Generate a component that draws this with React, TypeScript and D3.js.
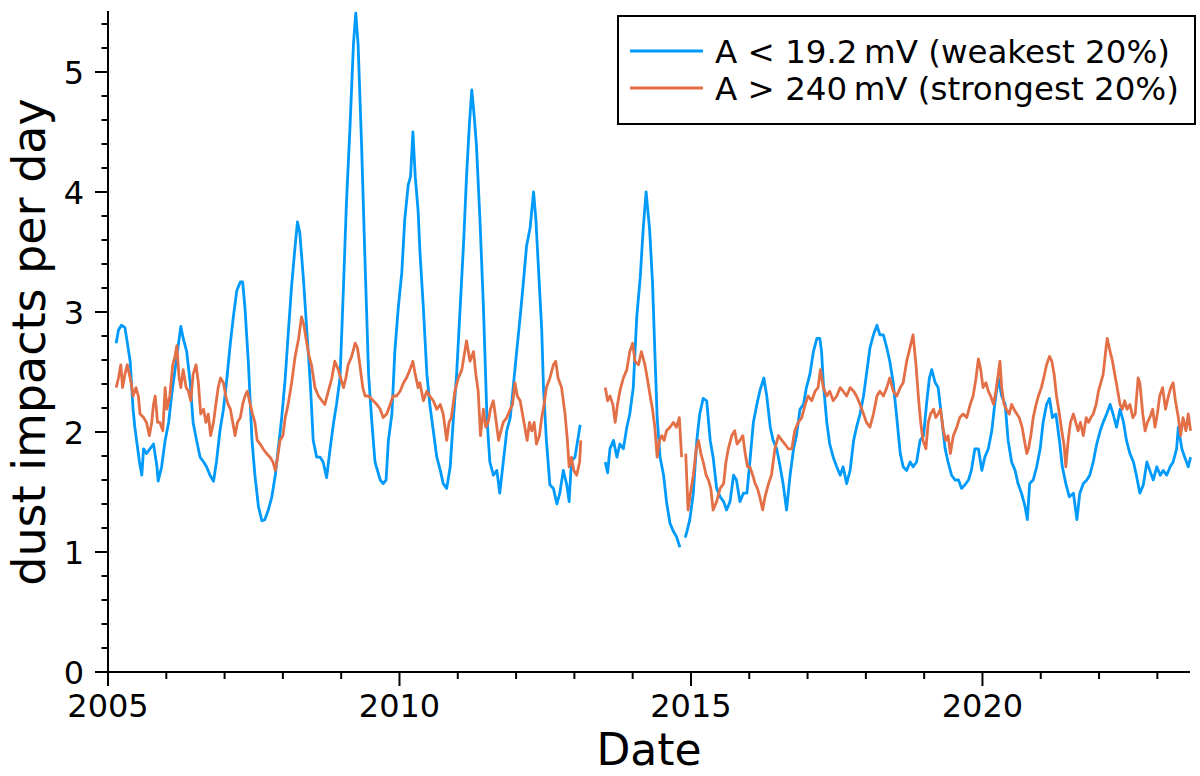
import React from "react";
import * as d3 from "d3";

// ---- data ----
const seriesNames = ["A < 19.2\u2009mV (weakest 20%)", "A > 240\u2009mV (strongest 20%)"];
const seriesColors = ["#009AFA", "#E36F47"];

const blueYears = [
  2005.14, 2005.18, 2005.23, 2005.29, 2005.32, 2005.38, 2005.43, 2005.46, 2005.49, 2005.54, 2005.58, 2005.61, 2005.66, 2005.72, 2005.78, 2005.84, 2005.86, 2005.92, 2005.98,
  2006.04, 2006.09, 2006.15, 2006.21, 2006.25, 2006.29, 2006.35, 2006.41, 2006.46, 2006.52, 2006.58, 2006.64, 2006.69, 2006.75, 2006.81, 2006.86, 2006.92, 2006.98,
  2007.04, 2007.09, 2007.15, 2007.21, 2007.27, 2007.31, 2007.35, 2007.41, 2007.47, 2007.52, 2007.58, 2007.64, 2007.69, 2007.75, 2007.81, 2007.87, 2007.92, 2007.98,
  2008.04, 2008.09, 2008.15, 2008.21, 2008.25, 2008.29, 2008.35, 2008.41, 2008.47, 2008.52, 2008.58, 2008.64, 2008.69, 2008.75, 2008.81, 2008.87, 2008.92, 2008.98,
  2009.04, 2009.09, 2009.15, 2009.21, 2009.25, 2009.29, 2009.35, 2009.41, 2009.47, 2009.52, 2009.58, 2009.67, 2009.72, 2009.77, 2009.81, 2009.87, 2009.92, 2009.98,
  2010.04, 2010.09, 2010.15, 2010.19, 2010.23, 2010.27, 2010.32, 2010.35, 2010.41, 2010.47, 2010.52, 2010.58, 2010.64, 2010.70, 2010.75, 2010.81, 2010.87, 2010.92, 2010.98,
  2011.04, 2011.10, 2011.15, 2011.20, 2011.24, 2011.28, 2011.32, 2011.38, 2011.44, 2011.50, 2011.55, 2011.61, 2011.67, 2011.72, 2011.78, 2011.84, 2011.90, 2011.95,
  2012.01, 2012.07, 2012.12, 2012.18, 2012.24, 2012.30, 2012.34, 2012.38, 2012.44, 2012.47, 2012.52, 2012.58, 2012.64, 2012.70, 2012.75, 2012.81, 2012.87, 2012.91, 2012.95,
  2013.01, 2013.10, 2013.30,
  2013.53, 2013.57, 2013.61, 2013.67, 2013.73, 2013.78, 2013.84, 2013.90, 2013.95, 2014.01, 2014.07, 2014.13, 2014.18, 2014.23, 2014.29, 2014.34, 2014.38, 2014.42, 2014.47,
  2014.53, 2014.58, 2014.64, 2014.70, 2014.75, 2014.81, 2014.85,
  2014.90, 2014.93, 2014.98, 2015.04, 2015.10, 2015.15, 2015.21, 2015.27, 2015.33, 2015.38, 2015.44, 2015.50, 2015.56, 2015.61, 2015.67, 2015.73, 2015.78, 2015.84, 2015.90, 2015.96,
  2016.01, 2016.07, 2016.13, 2016.18, 2016.25, 2016.30, 2016.36, 2016.41, 2016.47, 2016.53, 2016.58, 2016.64, 2016.70, 2016.76, 2016.81, 2016.87, 2016.93, 2016.98,
  2017.04, 2017.10, 2017.16, 2017.21, 2017.24, 2017.27, 2017.33, 2017.38, 2017.44, 2017.50, 2017.56, 2017.61, 2017.67, 2017.73, 2017.79, 2017.84, 2017.90, 2017.96,
  2018.01, 2018.07, 2018.13, 2018.19, 2018.24, 2018.30, 2018.36, 2018.41, 2018.47, 2018.53, 2018.59, 2018.64, 2018.70, 2018.76, 2018.81, 2018.87, 2018.93, 2018.99,
  2019.04, 2019.09, 2019.13, 2019.19, 2019.24, 2019.30, 2019.36, 2019.41, 2019.47, 2019.53, 2019.59, 2019.64, 2019.70, 2019.76, 2019.81, 2019.87, 2019.93, 2019.99,
  2020.04, 2020.10, 2020.16, 2020.21, 2020.27, 2020.33, 2020.39, 2020.44, 2020.50, 2020.56, 2020.61, 2020.67, 2020.73, 2020.77, 2020.81, 2020.87, 2020.93, 2020.99,
  2021.04, 2021.10, 2021.15, 2021.20, 2021.26, 2021.32, 2021.37, 2021.43, 2021.49, 2021.56, 2021.62, 2021.67, 2021.73, 2021.79, 2021.84, 2021.90, 2021.96,
  2022.02, 2022.07, 2022.13, 2022.19, 2022.24, 2022.30, 2022.36, 2022.42, 2022.47, 2022.53, 2022.59, 2022.64, 2022.70, 2022.76, 2022.82, 2022.87, 2022.93, 2022.99,
  2023.05, 2023.10, 2023.16, 2023.22, 2023.27, 2023.33, 2023.36, 2023.42, 2023.47, 2023.53, 2023.57,
];
const blueValues = [
  2.74, 2.85, 2.89, 2.87, 2.78, 2.59, 2.19, 2.04, 1.93, 1.75, 1.64, 1.86, 1.82, 1.86, 1.90, 1.71, 1.59, 1.71, 1.93,
  2.08, 2.30, 2.52, 2.74, 2.88, 2.78, 2.67, 2.41, 2.08, 1.93, 1.79, 1.75, 1.71, 1.64, 1.59, 1.75, 2.01, 2.19,
  2.45, 2.70, 2.96, 3.18, 3.25, 3.25, 3.03, 2.56, 1.93, 1.64, 1.38, 1.26, 1.27, 1.35, 1.46, 1.64, 1.86, 2.12,
  2.45, 2.81, 3.22, 3.55, 3.75, 3.66, 3.29, 2.85, 2.41, 1.93, 1.79, 1.79, 1.75, 1.62, 1.86, 2.08, 2.23, 2.45,
  3.22, 3.91, 4.53, 5.23, 5.49, 5.23, 4.39, 3.40, 2.48, 2.12, 1.75, 1.60, 1.57, 1.60, 1.93, 2.15, 2.67, 3.04,
  3.33, 3.77, 4.06, 4.13, 4.50, 4.13, 3.84, 3.51, 3.03, 2.48, 2.23, 2.01, 1.79, 1.68, 1.57, 1.53, 1.71, 2.08, 2.48,
  3.03, 3.58, 4.13, 4.57, 4.85, 4.64, 4.39, 3.77, 3.04, 2.12, 1.75, 1.64, 1.68, 1.49, 1.75, 2.01, 2.12, 2.37,
  2.67, 2.96, 3.22, 3.55, 3.70, 4.00, 3.77, 3.40, 2.85, 2.37, 1.93, 1.56, 1.53, 1.40, 1.49, 1.68, 1.56, 1.42, 1.76,
  1.79, 2.06, null,
  1.75, 1.66, 1.86, 1.93, 1.79, 1.90, 1.86, 2.04, 2.15, 2.37, 2.96, 3.29, 3.69, 4.00, 3.69, 3.25, 2.67, 2.12, 1.79,
  1.64, 1.42, 1.24, 1.17, 1.13, 1.04, null,
  1.12, 1.17, 1.27, 1.49, 1.93, 2.15, 2.28, 2.26, 1.93, 1.79, 1.53, 1.46, 1.42, 1.35, 1.42, 1.64, 1.60, 1.42, 1.49, 1.49,
  1.75, 2.08, 2.23, 2.34, 2.45, 2.30, 2.04, 1.93, 1.86, 1.71, 1.57, 1.35, 1.64, 1.86, 1.97, 2.19, 2.23, 2.37,
  2.48, 2.67, 2.78, 2.78, 2.67, 2.41, 2.08, 1.90, 1.79, 1.71, 1.64, 1.71, 1.57, 1.68, 1.93, 2.04, 2.15, 2.30,
  2.48, 2.70, 2.81, 2.89, 2.81, 2.81, 2.70, 2.59, 2.41, 2.12, 1.82, 1.71, 1.68, 1.75, 1.71, 1.75, 1.93, 1.97,
  2.23, 2.45, 2.52, 2.41, 2.37, 2.12, 1.86, 1.75, 1.64, 1.60, 1.60, 1.53, 1.56, 1.60, 1.68, 1.86, 1.86, 1.68,
  1.79, 1.86, 2.01, 2.23, 2.45, 2.30, 2.23, 1.93, 1.75, 1.68, 1.57, 1.49, 1.38, 1.27, 1.57, 1.60, 1.71, 1.86,
  2.08, 2.23, 2.28, 2.12, 2.15, 1.93, 1.71, 1.57, 1.46, 1.49, 1.27, 1.49, 1.57, 1.60, 1.64, 1.75, 1.90,
  2.01, 2.08, 2.15, 2.23, 2.15, 2.04, 2.19, 2.08, 1.93, 1.82, 1.75, 1.64, 1.49, 1.56, 1.75, 1.68, 1.60, 1.71,
  1.64, 1.68, 1.64, 1.71, 1.75, 1.86, 2.04, 1.86, 1.79, 1.71, 1.79,
];

const orangeYears = [
  2005.14, 2005.18, 2005.22, 2005.25, 2005.29, 2005.33, 2005.38, 2005.41, 2005.43, 2005.48, 2005.52, 2005.55, 2005.61, 2005.66, 2005.71, 2005.75, 2005.78, 2005.81, 2005.85, 2005.89, 2005.94, 2005.98,
  2006.01, 2006.06, 2006.11, 2006.15, 2006.18, 2006.22, 2006.25, 2006.29, 2006.34, 2006.38, 2006.42, 2006.46, 2006.51, 2006.55, 2006.59, 2006.64, 2006.68, 2006.72, 2006.76, 2006.81, 2006.85, 2006.89, 2006.93, 2006.98,
  2007.02, 2007.06, 2007.10, 2007.14, 2007.18, 2007.22, 2007.27, 2007.31, 2007.35, 2007.39, 2007.44, 2007.48, 2007.52, 2007.56, 2007.61, 2007.66, 2007.72, 2007.78, 2007.83, 2007.87, 2007.91, 2007.95,
  2008.00, 2008.04, 2008.09, 2008.15, 2008.21, 2008.27, 2008.32, 2008.36, 2008.41, 2008.45, 2008.49, 2008.55, 2008.61, 2008.67, 2008.72, 2008.78, 2008.84, 2008.89, 2008.95, 2008.99,
  2009.04, 2009.08, 2009.12, 2009.18, 2009.24, 2009.28, 2009.32, 2009.37, 2009.41, 2009.47, 2009.55, 2009.61, 2009.67, 2009.72, 2009.78, 2009.84, 2009.89, 2009.95,
  2010.01, 2010.07, 2010.12, 2010.18, 2010.23, 2010.27, 2010.32, 2010.35, 2010.41, 2010.47, 2010.52, 2010.58, 2010.64, 2010.70, 2010.75, 2010.81, 2010.85, 2010.89, 2010.95,
  2011.01, 2011.07, 2011.12, 2011.15, 2011.21, 2011.27, 2011.31, 2011.35, 2011.39, 2011.44, 2011.48, 2011.52, 2011.56, 2011.61, 2011.66, 2011.70, 2011.74, 2011.78, 2011.84, 2011.90, 2011.94, 2011.98,
  2012.02, 2012.07, 2012.11, 2012.15, 2012.19, 2012.23, 2012.27, 2012.31, 2012.35, 2012.40, 2012.44, 2012.48, 2012.52, 2012.58, 2012.64, 2012.68, 2012.72, 2012.78, 2012.84, 2012.88, 2012.91, 2012.95, 2012.99,
  2013.04, 2013.09, 2013.11, 2013.30,
  2013.53, 2013.57, 2013.61, 2013.66, 2013.70, 2013.74, 2013.78, 2013.84, 2013.90, 2013.95, 2014.00, 2014.04, 2014.10, 2014.15, 2014.21, 2014.25, 2014.30, 2014.34, 2014.38, 2014.42, 2014.46, 2014.50, 2014.54, 2014.58,
  2014.64, 2014.70, 2014.75, 2014.80, 2014.84, 2014.87,
  2014.91, 2014.95, 2014.99, 2015.04, 2015.09, 2015.13, 2015.17, 2015.21, 2015.26, 2015.30, 2015.34, 2015.38, 2015.44, 2015.50, 2015.56, 2015.60, 2015.64, 2015.70, 2015.75, 2015.79, 2015.84, 2015.89, 2015.93, 2015.97,
  2016.01, 2016.06, 2016.10, 2016.14, 2016.18, 2016.23, 2016.27, 2016.33, 2016.38, 2016.44, 2016.50, 2016.56, 2016.61, 2016.67, 2016.73, 2016.78, 2016.84, 2016.90, 2016.96,
  2017.01, 2017.07, 2017.13, 2017.18, 2017.22, 2017.27, 2017.33, 2017.38, 2017.44, 2017.50, 2017.56, 2017.61, 2017.67, 2017.73, 2017.79, 2017.84, 2017.90, 2017.96,
  2018.01, 2018.07, 2018.13, 2018.19, 2018.24, 2018.30, 2018.36, 2018.41, 2018.47, 2018.53, 2018.59, 2018.64, 2018.70, 2018.76, 2018.81, 2018.86, 2018.90, 2018.94, 2018.98,
  2019.03, 2019.07, 2019.11, 2019.16, 2019.20, 2019.24, 2019.28, 2019.33, 2019.37, 2019.41, 2019.45, 2019.50, 2019.56, 2019.61, 2019.67, 2019.73, 2019.79, 2019.84, 2019.89, 2019.93, 2019.97,
  2020.01, 2020.06, 2020.10, 2020.14, 2020.19, 2020.23, 2020.27, 2020.30, 2020.33, 2020.37, 2020.41, 2020.46, 2020.50, 2020.54, 2020.59, 2020.63, 2020.68, 2020.72, 2020.76, 2020.79, 2020.83, 2020.87, 2020.92, 2020.96,
  2021.01, 2021.05, 2021.10, 2021.15, 2021.19, 2021.23, 2021.27, 2021.32, 2021.36, 2021.40, 2021.43, 2021.47, 2021.51, 2021.56, 2021.60, 2021.64, 2021.68, 2021.73, 2021.78, 2021.82, 2021.86, 2021.90, 2021.95, 2021.99,
  2022.03, 2022.07, 2022.12, 2022.14, 2022.19, 2022.23, 2022.27, 2022.31, 2022.36, 2022.40, 2022.44, 2022.48, 2022.53, 2022.58, 2022.62, 2022.67, 2022.70, 2022.75, 2022.79, 2022.83, 2022.87, 2022.92, 2022.96,
  2023.00, 2023.04, 2023.09, 2023.14, 2023.19, 2023.23, 2023.27, 2023.31, 2023.36, 2023.40, 2023.44, 2023.49, 2023.53, 2023.57,
];
const orangeValues = [
  2.37, 2.45, 2.56, 2.37, 2.48, 2.56, 2.45, 2.37, 2.30, 2.37, 2.30, 2.15, 2.12, 2.08, 1.97, 2.08, 2.23, 2.30, 2.08, 2.08, 2.01, 2.37,
  2.19, 2.30, 2.56, 2.63, 2.72, 2.45, 2.37, 2.52, 2.37, 2.34, 2.26, 2.48, 2.56, 2.41, 2.15, 2.19, 2.08, 2.15, 1.97, 2.08, 2.23, 2.37, 2.45, 2.41,
  2.30, 2.23, 2.19, 2.08, 1.97, 2.08, 2.12, 2.23, 2.30, 2.34, 2.23, 2.15, 2.08, 1.93, 1.90, 1.86, 1.82, 1.79, 1.75, 1.68, 1.79, 1.93,
  1.97, 2.12, 2.23, 2.41, 2.63, 2.78, 2.96, 2.89, 2.74, 2.63, 2.56, 2.37, 2.30, 2.26, 2.23, 2.34, 2.45, 2.59, 2.52, 2.45,
  2.37, 2.45, 2.56, 2.63, 2.74, 2.70, 2.56, 2.37, 2.30, 2.30, 2.26, 2.23, 2.19, 2.12, 2.15, 2.23, 2.30, 2.30,
  2.34, 2.41, 2.45, 2.52, 2.59, 2.48, 2.37, 2.41, 2.26, 2.34, 2.30, 2.26, 2.19, 2.23, 2.15, 1.93, 2.08, 2.12, 2.34,
  2.45, 2.52, 2.67, 2.76, 2.59, 2.67, 2.48, 2.34, 1.97, 2.19, 2.04, 2.08, 2.19, 2.26, 2.08, 1.93, 2.01, 2.08, 2.12, 2.19, 2.23, 2.41,
  2.30, 2.26, 2.15, 2.04, 1.93, 2.08, 2.01, 2.08, 1.90, 1.97, 2.12, 2.23, 2.37, 2.45, 2.56, 2.59, 2.45, 2.37, 2.15, 1.93, 1.71, 1.79, 1.68,
  1.64, 1.75, 1.93, null,
  2.37, 2.26, 2.30, 2.23, 2.08, 2.23, 2.34, 2.45, 2.52, 2.67, 2.74, 2.59, 2.56, 2.67, 2.56, 2.45, 2.30, 2.19, 2.04, 1.79, 1.93, 1.97, 1.93, 2.01,
  2.04, 2.08, 2.04, 2.12, 1.79, null,
  1.82, 1.35, 1.49, 1.64, 1.86, 1.93, 1.82, 1.75, 1.64, 1.60, 1.53, 1.35, 1.42, 1.53, 1.57, 1.75, 1.86, 1.97, 2.01, 1.90, 1.93, 1.97, 1.82, 1.71,
  1.71, 1.64, 1.57, 1.53, 1.46, 1.35, 1.46, 1.57, 1.64, 1.86, 1.97, 1.93, 1.90, 1.86, 1.86, 2.01, 2.08, 2.12, 2.23,
  2.30, 2.26, 2.34, 2.37, 2.52, 2.37, 2.30, 2.34, 2.26, 2.30, 2.37, 2.34, 2.30, 2.37, 2.34, 2.30, 2.23, 2.15,
  2.08, 2.04, 2.15, 2.30, 2.34, 2.30, 2.37, 2.45, 2.34, 2.30, 2.37, 2.41, 2.59, 2.71, 2.81, 2.56, 2.30, 2.08, 1.93,
  1.86, 2.08, 2.15, 2.19, 2.12, 2.15, 2.19, 2.01, 1.93, 1.97, 1.82, 1.97, 2.04, 2.12, 2.15, 2.12, 2.23, 2.30, 2.45, 2.61, 2.52,
  2.37, 2.41, 2.34, 2.30, 2.23, 2.34, 2.48, 2.59, 2.37, 2.23, 2.19, 2.15, 2.23, 2.19, 2.15, 2.12, 2.04, 1.93, 1.82, 1.86, 1.97, 2.12, 2.23, 2.30,
  2.37, 2.45, 2.56, 2.63, 2.59, 2.48, 2.30, 2.15, 2.01, 1.89, 1.71, 1.93, 2.08, 2.15, 2.08, 2.01, 2.08, 1.97, 2.12, 2.08, 2.12, 2.15, 2.23, 2.34,
  2.41, 2.48, 2.70, 2.78, 2.67, 2.59, 2.48, 2.37, 2.23, 2.19, 2.26, 2.19, 2.23, 2.12, 2.15, 2.45, 2.41, 2.15, 2.01, 2.08, 2.12, 2.19, 2.04,
  2.15, 2.30, 2.37, 2.19, 2.30, 2.37, 2.41, 2.26, 2.12, 1.97, 2.12, 2.01, 2.15, 2.01,
];

const xTickYears = [2005, 2006, 2007, 2008, 2009, 2010, 2011, 2012, 2013, 2014, 2015, 2016, 2017, 2018, 2019, 2020, 2021, 2022, 2023];
const xLabelYears = [2005, 2010, 2015, 2020];
const yMajorTicks = [0, 1, 2, 3, 4, 5];
const yMinorTicks = [0.2, 0.4, 0.6, 0.8, 1.2, 1.4, 1.6, 1.8, 2.2, 2.4, 2.6, 2.8, 3.2, 3.4, 3.6, 3.8, 4.2, 4.4, 4.6, 4.8, 5.2, 5.4];
const xTitle = "Date";
const yTitle = "dust impacts per day";

// ---- layout ----
const W = 1200;
const H = 776;
const plot = { left: 108, right: 1190, top: 12, bottom: 672 };
const FONT = "'DejaVu Sans', sans-serif";

type Pt = { x: number; y: number | null };

export default function App() {
  const x = d3.scaleLinear().domain([2005, 2023.56]).range([plot.left, plot.right]);
  const y = d3.scaleLinear().domain([0, 5.5]).range([plot.bottom, plot.top]);

  const line = d3
    .line<Pt>()
    .defined((d) => d.y !== null)
    .x((d) => x(d.x))
    .y((d) => y(d.y as number));

  const blue: Pt[] = blueYears.map((yr, i) => ({ x: yr, y: blueValues[i] }));
  const orange: Pt[] = orangeYears.map((yr, i) => ({ x: yr, y: orangeValues[i] }));

  const legend = { x: 618, y: 16, w: 577, h: 108 };

  return (
    <svg
      width={W}
      height={H}
      viewBox={`0 0 ${W} ${H}`}
      style={{ position: "fixed", left: 0, top: 0, background: "#fff", display: "block" }}
      fontFamily={FONT}
    >
      <rect x={0} y={0} width={W} height={H} fill="#fff" />
      {/* series */}
      <path d={line(blue) ?? ""} fill="none" stroke={seriesColors[0]} strokeWidth={2.8} strokeLinejoin="round" />
      <path d={line(orange) ?? ""} fill="none" stroke={seriesColors[1]} strokeWidth={2.8} strokeLinejoin="round" />

      {/* axes */}
      <g stroke="#000" strokeWidth={2}>
        <line x1={plot.left} x2={plot.left} y1={plot.top - 1} y2={plot.bottom + 1} />
        <line x1={plot.left - 1} x2={plot.right} y1={plot.bottom} y2={plot.bottom} />
        {yMajorTicks.map((t) => (
          <line key={"ym" + t} x1={plot.left - 13} x2={plot.left} y1={y(t)} y2={y(t)} />
        ))}
        {yMinorTicks.map((t) => (
          <line key={"yn" + t} x1={plot.left - 6.5} x2={plot.left} y1={y(t)} y2={y(t)} />
        ))}
        {xTickYears.map((t) => (
          <line
            key={"x" + t}
            x1={x(t)}
            x2={x(t)}
            y1={plot.bottom}
            y2={plot.bottom + (xLabelYears.includes(t) ? 14 : 7)}
          />
        ))}
      </g>
      <g fontSize={32} fill="#000">
        {yMajorTicks.map((t) => (
          <text key={"yl" + t} x={plot.left - 24} y={y(t)} dy="0.36em" textAnchor="end">
            {t}
          </text>
        ))}
        {xLabelYears.map((t) => (
          <text key={"xl" + t} x={x(t)} y={plot.bottom + 45} textAnchor="middle">
            {t}
          </text>
        ))}
      </g>
      <text x={(plot.left + plot.right) / 2} y={765} fontSize={44} textAnchor="middle" fill="#000">
        {xTitle}
      </text>
      <text
        transform={`translate(45, ${(plot.top + plot.bottom) / 2}) rotate(-90)`}
        fontSize={46}
        textAnchor="middle"
        fill="#000"
      >
        {yTitle}
      </text>

      {/* legend */}
      <rect x={legend.x} y={legend.y} width={legend.w} height={legend.h} fill="#fff" stroke="#000" strokeWidth={2} />
      {seriesNames.map((name, i) => {
        const cy = legend.y + 35 + i * 37;
        return (
          <g key={name}>
            <line x1={legend.x + 12} x2={legend.x + 85} y1={cy} y2={cy} stroke={seriesColors[i]} strokeWidth={2.8} />
            <text x={legend.x + 97} y={cy} dy="0.36em" fontSize={32.5} fill="#000">
              {name}
            </text>
          </g>
        );
      })}
    </svg>
  );
}
